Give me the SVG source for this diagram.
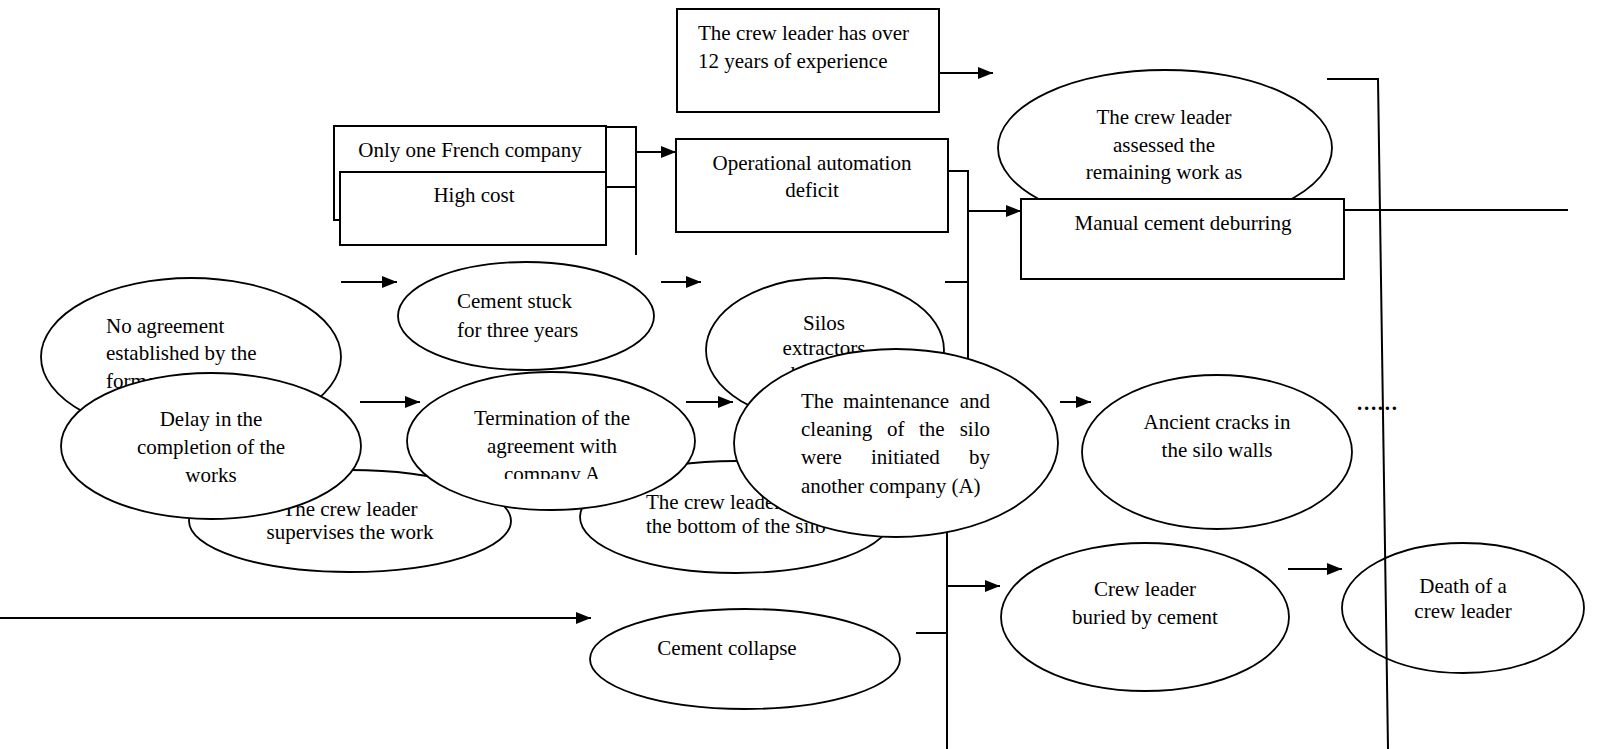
<svg xmlns="http://www.w3.org/2000/svg" width="1597" height="749" viewBox="0 0 1597 749">
<style>
.box{fill:#fff;stroke:#000;stroke-width:2}
.ell{fill:#fff;stroke:#000;stroke-width:1.8}
.ln{fill:none;stroke:#000;stroke-width:2}
.t{font-family:"Liberation Serif","Times New Roman",serif;font-size:21px;fill:#000}
.c{text-anchor:middle}
.e{text-anchor:end}
</style>
<defs>
<marker id="ah" markerUnits="userSpaceOnUse" markerWidth="16" markerHeight="13" refX="15" refY="6" orient="auto">
<path d="M0,0 L15,6 L0,12 z" fill="#000"/>
</marker>
<clipPath id="clipTerm"><rect x="400" y="360" width="300" height="119"/></clipPath>
</defs>

<g id="n-experience">
<rect class="box" x="677" y="9" width="262" height="103"/>
<text class="t" x="698" y="40">The crew leader has over</text>
<text class="t" x="698" y="68">12 years of experience</text>
</g>

<g id="n-french">
<rect class="box" x="334" y="126" width="272" height="94"/>
<text class="t c" x="470" y="157">Only one French company</text>
</g>

<g id="n-highcost">
<rect class="box" x="340" y="172" width="266" height="73"/>
<text class="t c" x="474" y="202">High cost</text>
</g>

<g id="n-automation">
<rect class="box" x="676" y="139" width="272" height="93"/>
<text class="t c" x="812" y="170">Operational automation</text>
<text class="t c" x="812" y="197">deficit</text>
</g>

<g id="n-assessed">
<ellipse class="ell" cx="1165" cy="148" rx="167" ry="78"/>
<text class="t c" x="1164" y="124">The crew leader</text>
<text class="t c" x="1164" y="152">assessed the</text>
<text class="t c" x="1164" y="179">remaining work as</text>
</g>

<g id="n-deburring">
<rect class="box" x="1021" y="199" width="323" height="80"/>
<text class="t c" x="1183" y="230">Manual cement deburring</text>
</g>

<g id="n-stuck">
<ellipse class="ell" cx="526" cy="316" rx="128" ry="54"/>
<text class="t" x="457" y="308">Cement stuck</text>
<text class="t" x="457" y="337">for three years</text>
</g>

<g id="n-noagreement">
<ellipse class="ell" cx="191" cy="357" rx="150" ry="79"/>
<text class="t" x="106" y="333">No agreement</text>
<text class="t" x="106" y="360">established by the</text>
<text class="t" x="106" y="388">former</text>
</g>

<g id="n-supervises">
<ellipse class="ell" cx="350" cy="521" rx="161" ry="51"/>
<text class="t c" x="350" y="516">The crew leader</text>
<text class="t c" x="350" y="539">supervises the work</text>
</g>

<g id="n-delay">
<ellipse class="ell" cx="211" cy="446" rx="150" ry="73"/>
<text class="t c" x="211" y="426">Delay in the</text>
<text class="t c" x="211" y="454">completion of the</text>
<text class="t c" x="211" y="482">works</text>
</g>

<g id="n-bottom">
<ellipse class="ell" cx="736" cy="517" rx="156" ry="56"/>
<text class="t" x="646" y="509">The crew leader</text>
<text class="t" x="646" y="533">the bottom of the silo</text>
</g>

<g id="n-termination">
<ellipse class="ell" cx="551" cy="441" rx="144" ry="69"/>
<g clip-path="url(#clipTerm)">
<text class="t c" x="552" y="425">Termination of the</text>
<text class="t c" x="552" y="453">agreement with</text>
<text class="t c" x="552" y="481">company A</text>
</g>
</g>

<g id="n-silos">
<ellipse class="ell" cx="825" cy="350" rx="119" ry="72"/>
<text class="t c" x="824" y="330">Silos</text>
<text class="t c" x="824" y="355">extractors</text>
<text class="t c" x="824" y="381">blocked</text>
</g>

<g id="n-maintenance">
<ellipse class="ell" cx="896" cy="443" rx="162" ry="94"/>
<text class="t" y="408"><tspan x="801">The</tspan> <tspan x="843">maintenance</tspan></text>
<text class="t e" x="990" y="408">and</text>
<text class="t" y="436"><tspan x="801">cleaning</tspan> <tspan x="887">of</tspan> <tspan x="919">the</tspan></text>
<text class="t e" x="990" y="436">silo</text>
<text class="t" y="464"><tspan x="801">were</tspan> <tspan x="871">initiated</tspan></text>
<text class="t e" x="990" y="464">by</text>
<text class="t" x="801" y="493">another company (A)</text>
</g>

<g id="n-cracks">
<ellipse class="ell" cx="1217" cy="452" rx="135" ry="77"/>
<text class="t c" x="1217" y="429">Ancient cracks in</text>
<text class="t c" x="1217" y="457">the silo walls</text>
</g>

<g id="n-buried">
<ellipse class="ell" cx="1145" cy="617" rx="144" ry="74"/>
<text class="t c" x="1145" y="596">Crew leader</text>
<text class="t c" x="1145" y="624">buried by cement</text>
</g>

<g id="n-death">
<ellipse class="ell" cx="1463" cy="608" rx="121" ry="65"/>
<text class="t c" x="1463" y="593">Death of a</text>
<text class="t c" x="1463" y="618">crew leader</text>
</g>

<g id="n-collapse">
<ellipse class="ell" cx="745" cy="659" rx="155" ry="50"/>
<text class="t c" x="727" y="655">Cement collapse</text>
</g>

<g id="connectors">
<line class="ln" x1="939" y1="73" x2="993" y2="73" marker-end="url(#ah)"/>
<polyline class="ln" points="606,127 636,127 636,255"/>
<line class="ln" x1="606" y1="187" x2="636" y2="187"/>
<line class="ln" x1="636" y1="152" x2="676" y2="152" marker-end="url(#ah)"/>
<polyline class="ln" points="948,171 968,171 968,359"/>
<line class="ln" x1="968" y1="211" x2="1021" y2="211" marker-end="url(#ah)"/>
<line class="ln" x1="945" y1="282" x2="968" y2="282"/>
<line class="ln" x1="341" y1="282" x2="397" y2="282" marker-end="url(#ah)"/>
<line class="ln" x1="661" y1="282" x2="701" y2="282" marker-end="url(#ah)"/>
<line class="ln" x1="360" y1="402" x2="420" y2="402" marker-end="url(#ah)"/>
<line class="ln" x1="686" y1="402" x2="733" y2="402" marker-end="url(#ah)"/>
<line class="ln" x1="1060" y1="402" x2="1091" y2="402" marker-end="url(#ah)"/>
<line class="ln" x1="947" y1="532" x2="947" y2="749"/>
<line class="ln" x1="947" y1="586" x2="1000" y2="586" marker-end="url(#ah)"/>
<line class="ln" x1="916" y1="633" x2="947" y2="633"/>
<line class="ln" x1="0" y1="618" x2="591" y2="618" marker-end="url(#ah)"/>
<line class="ln" x1="1288" y1="569" x2="1342" y2="569" marker-end="url(#ah)"/>
<line class="ln" x1="1344" y1="210" x2="1568" y2="210"/>
<polyline class="ln" points="1327,79 1378,79 1388,749"/>
<text class="t" x="1357" y="410" font-weight="bold" textLength="40" lengthAdjust="spacing">......</text>
</g>
</svg>
